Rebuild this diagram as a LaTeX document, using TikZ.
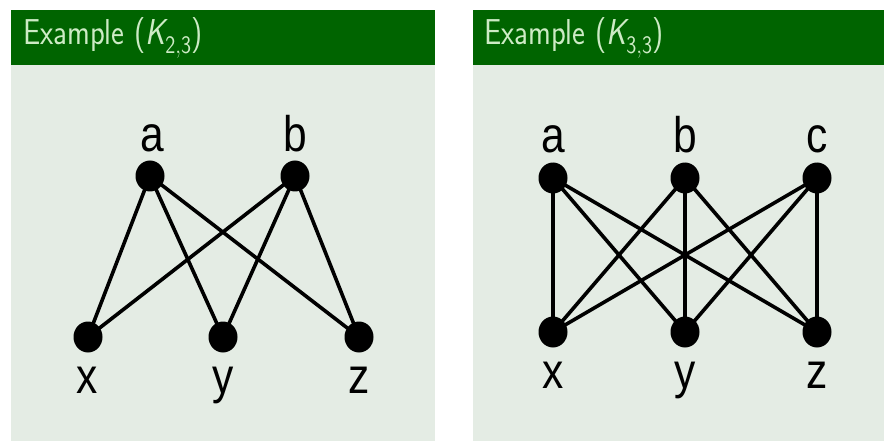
\documentclass[tikz,border=0pt]{standalone}
\usepackage{fontspec}
\usetikzlibrary{shapes.geometric}
\newfontfamily\lblfont{Liberation Sans}
\definecolor{hdr}{HTML}{006400}
\definecolor{bodyc}{HTML}{E4ECE4}
\definecolor{hdrtxt}{HTML}{CDEBC5}
\newcommand{\narrow}[2]{\scalebox{#1}[1]{#2}}
\tikzset{
  vtx/.style={ellipse, fill=black, inner sep=0pt, minimum width=29pt, minimum height=31pt},
  lbl/.style={font=\lblfont\fontsize{50}{50}\selectfont, inner sep=0pt, anchor=base},
  edge/.style={line width=3.6pt, black},
  ttl/.style={font=\sffamily\fontsize{36}{36}\selectfont, text=hdrtxt, inner sep=0pt, anchor=base west},
}
\begin{document}
\begin{tikzpicture}[x=1pt,y=-1pt]
\useasboundingbox (0,0) rectangle (884,441);
\fill[white] (0,0) rectangle (884,441);
% left block
\fill[bodyc] (11,65) rectangle (435,441);
\fill[hdr] (11,10) rectangle (435,65);
\node[ttl] (t1) at (23,45) {\narrow{0.85}{Example ({\itshape K}$_{\mathsf{2,3}}$)}};
% right block
\fill[bodyc] (473,65) rectangle (884,441);
\fill[hdr] (473,10) rectangle (884,65);
\node[ttl] (t2) at (484,45) {\narrow{0.85}{Example ({\itshape K}$_{\mathsf{3,3}}$)}};
% K_{2,3}
\node[vtx] (a1) at (150,176) {};
\node[vtx] (b1) at (295,176) {};
\node[vtx] (x1) at (88,337) {};
\node[vtx] (y1) at (223,337) {};
\node[vtx] (z1) at (359,337) {};
\foreach \u in {a1,b1}{\foreach \v in {x1,y1,z1}{\draw[edge] (\u.center) -- (\v.center);}}
\node[lbl] (la1) at (152,152) {\narrow{0.85}{a}};
\node[lbl] (lb1) at (295,152) {\narrow{0.85}{b}};
\node[lbl] (lx1) at (87,393) {\narrow{0.85}{x}};
\node[lbl] (ly1) at (223,393) {\narrow{0.85}{y}};
\node[lbl] (lz1) at (359,393) {\narrow{0.85}{z}};
% K_{3,3}
\node[vtx] (a2) at (553,178) {};
\node[vtx] (b2) at (685,178) {};
\node[vtx] (c2) at (817,178) {};
\node[vtx] (x2) at (553,332) {};
\node[vtx] (y2) at (685,332) {};
\node[vtx] (z2) at (817,332) {};
\foreach \u in {a2,b2,c2}{\foreach \v in {x2,y2,z2}{\draw[edge] (\u.center) -- (\v.center);}}
\node[lbl] (la2) at (553,153) {\narrow{0.85}{a}};
\node[lbl] (lb2) at (685,153) {\narrow{0.85}{b}};
\node[lbl] (lc2) at (817,153) {\narrow{0.85}{c}};
\node[lbl] (lx2) at (553,388) {\narrow{0.85}{x}};
\node[lbl] (ly2) at (685,388) {\narrow{0.85}{y}};
\node[lbl] (lz2) at (817,388) {\narrow{0.85}{z}};
\end{tikzpicture}
\end{document}
